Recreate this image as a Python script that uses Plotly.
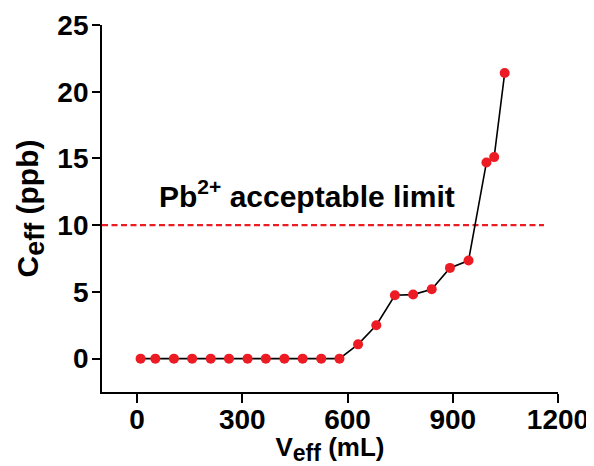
import plotly.graph_objects as go

v_eff = [10, 52, 105, 157, 210, 262, 315, 367, 420, 472, 525, 577,
         630, 682, 735, 787, 840, 892, 945, 996, 1018, 1048]
c_eff = [0, 0, 0, 0, 0, 0, 0, 0, 0, 0, 0, 0,
         1.07, 2.5, 4.75, 4.8, 5.2, 6.8, 7.35, 14.7, 15.1, 21.4]
limit_x = [-100, 1160]
limit_y = [10, 10]
x_ticks = [0, 300, 600, 900, 1200]
y_ticks = [0, 5, 10, 15, 20, 25]

FONT = "Liberation Sans, Arial, sans-serif"
RED = "#ED1C24"

fig = go.Figure()
fig.add_trace(go.Scatter(
    x=limit_x, y=limit_y, mode="lines",
    line=dict(color=RED, width=2.2, dash="6px,3.5px"),
    hoverinfo="skip", showlegend=False))
fig.add_trace(go.Scatter(
    x=v_eff, y=c_eff, mode="lines+markers",
    line=dict(color="black", width=1.6),
    marker=dict(color=RED, size=10),
    showlegend=False))

fig.add_annotation(
    x=485, y=12.3, xref="x", yref="y",
    text="<b>Pb<sup>2+</sup> acceptable limit</b>",
    showarrow=False,
    font=dict(family=FONT, size=30, color="black"))

fig.update_xaxes(
    range=[-100, 1200], tickvals=x_ticks, automargin=False,
    showline=True, linecolor="black", linewidth=1.8,
    ticks="outside", ticklen=9, tickwidth=1.8, tickcolor="black",
    ticklabelstandoff=-8,
    showgrid=False, zeroline=False,
    tickfont=dict(family=FONT, size=28, color="black", weight="bold"),
    title=dict(text="<b>V<sub><span style='font-size:23px'>eff</span></sub> (mL)</b>",
               font=dict(family=FONT, size=26, color="black"),
               standoff=6))
fig.update_yaxes(
    range=[-2.5, 25], tickvals=y_ticks, automargin=False,
    showline=True, linecolor="black", linewidth=1.8,
    ticks="outside", ticklen=8, tickwidth=1.8, tickcolor="black",
    ticklabelstandoff=-2,
    showgrid=False, zeroline=False,
    tickfont=dict(family=FONT, size=28, color="black", weight="bold"),
    title=dict(text="<b>C<sub><span style='font-size:27px'>eff</span></sub> (ppb)</b>",
               font=dict(family=FONT, size=30, color="black"),
               standoff=10))

fig.update_layout(
    width=586, height=458,
    margin=dict(l=94, r=36, t=17, b=74),
    plot_bgcolor="white", paper_bgcolor="white")

fig.write_html("out.html")
